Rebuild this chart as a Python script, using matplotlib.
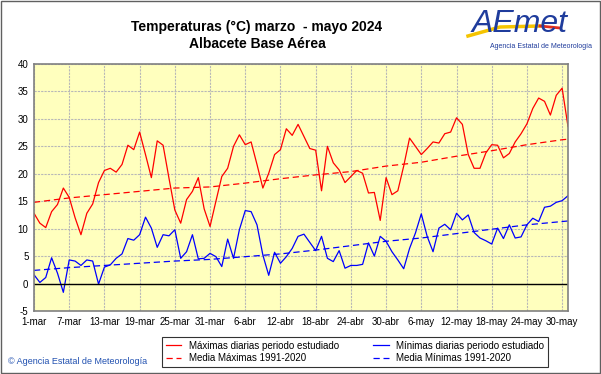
import matplotlib.pyplot as plt
from matplotlib.patches import Rectangle
from matplotlib.lines import Line2D

plt.rcParams['font.family'] = ['Liberation Sans', 'DejaVu Sans']
plt.rcParams['axes.unicode_minus'] = False

# daily maxima / minima, 1-mar .. 31-may 2024
t_max = [12.8, 11.0, 10.2, 13.1, 14.4, 17.4, 15.7, 12.0, 8.9, 12.8,
         14.5, 18.4, 20.6, 21.0, 20.3, 21.7, 25.2, 24.4, 27.6, 23.5,
         19.3, 26.0, 25.2, 19.2, 13.4, 11.0, 15.3, 16.8, 19.3, 13.6,
         10.4, 15.0, 19.5, 21.0, 25.0, 27.1, 25.3, 25.8, 21.7, 17.4,
         20.1, 23.5, 24.4, 28.2, 27.0, 29.0, 26.8, 24.6, 24.3, 16.9,
         25.0, 22.0, 20.7, 18.4, 19.5, 20.6, 20.1, 16.5, 16.6, 11.5,
         19.3, 16.2, 16.9, 21.4, 26.5, 25.0, 23.5, 24.6, 25.8, 25.6,
         27.3, 27.6, 30.2, 29.0, 23.5, 21.0, 21.0, 23.8, 25.3, 25.2,
         22.9, 23.7, 25.8, 27.3, 29.1, 31.9, 33.8, 33.2, 30.7, 34.3,
         35.6, 28.6]
t_min = [1.6, 0.2, 1.1, 4.7, 1.9, -1.6, 4.3, 4.1, 3.3, 4.3,
         4.1, -0.1, 3.0, 3.4, 4.6, 5.4, 8.2, 7.9, 8.9, 12.1,
         10.1, 6.6, 8.9, 8.7, 9.8, 4.6, 5.8, 8.9, 4.5, 4.6,
         5.5, 4.9, 3.1, 8.1, 4.6, 9.8, 13.3, 13.1, 10.7, 5.2,
         1.5, 5.7, 3.7, 4.9, 6.4, 8.6, 9.0, 7.5, 6.0, 8.6,
         4.6, 4.0, 6.0, 2.8, 3.3, 3.3, 3.5, 7.4, 5.0, 8.6,
         7.7, 5.8, 4.3, 2.7, 6.4, 9.2, 12.7, 8.6, 5.8, 10.1,
         10.8, 9.8, 12.8, 11.6, 12.5, 9.3, 8.3, 7.8, 7.2, 10.1,
         8.2, 10.7, 8.3, 8.5, 10.7, 11.9, 11.3, 13.9, 14.1, 14.8,
         15.1, 16.0]

# 1991-2020 normals read at the grid days
clim_days = [0, 6, 12, 18, 24, 30, 36, 42, 48, 54, 60, 66, 72, 78, 84, 90, 91]
clim_max = [14.8, 15.6, 16.2, 16.8, 17.4, 17.6, 18.3, 19.1, 19.8, 20.4,
            21.4, 22.1, 23.2, 24.2, 25.3, 26.2, 26.3]
clim_min = [2.4, 2.9, 3.3, 3.7, 4.1, 4.4, 4.9, 5.4, 6.1, 6.9,
            7.7, 8.3, 9.1, 9.9, 10.7, 11.3, 11.4]

tick_days = [0, 6, 12, 18, 24, 30, 36, 42, 48, 54, 60, 66, 72, 78, 84, 90]
tick_labels = ['1-mar', '7-mar', '13-mar', '19-mar', '25-mar', '31-mar',
               '6-abr', '12-abr', '18-abr', '24-abr', '30-abr', '6-may',
               '12-may', '18-may', '24-may', '30-may']

days = list(range(len(t_max)))

fig = plt.figure(figsize=(6.01, 3.74), dpi=100)
fig.patches.append(Rectangle((0.002, 0.003), 0.996, 0.994, transform=fig.transFigure,
                             fill=False, edgecolor='#606060', lw=1))
ax = fig.add_axes([34/601, 63/374, 534/601, 247/374])
ax.set_facecolor('#FFFFBE')

l1, = ax.plot(days, t_max, color='red', lw=0.9)
l2, = ax.plot(clim_days, clim_max, color='red', lw=0.9, ls=(0, (5, 3)))
l3, = ax.plot(days, t_min, color='blue', lw=0.9)
l4, = ax.plot(clim_days, clim_min, color='blue', lw=0.9, ls=(0, (5, 3)))
ax.axhline(0, color='black', lw=1)

ax.set_xlim(0, 91)
ax.set_ylim(-5, 40)
ax.set_yticks(range(-5, 41, 5))
ax.set_xticks(tick_days)
ax.set_xticklabels(tick_labels)
ax.tick_params(length=0, labelsize=7, pad=4)
ax.grid(True, color='#B8B8B8', ls=(0, (2, 1)), lw=0.8)
ax.set_axisbelow(True)
for s in ax.spines.values():
    s.set_color('#808080')
    s.set_linewidth(1.2)

fig.text(257/601, 1 - 27/374, 'Temperaturas (°C) marzo  - mayo 2024', ha='center', va='center',
         fontsize=10, fontweight='bold')
fig.text(257/601, 1 - 44/374, 'Albacete Base Aérea', ha='center', va='center',
         fontsize=10, fontweight='bold')

# logo
fig.lines.append(Line2D([468/601, 500/601, 540/601], [1 - 36/374, 1 - 27/374, 1 - 26/374],
                        transform=fig.transFigure, color='#F5C400', lw=2.5))
fig.lines.append(Line2D([540/601, 560/601], [1 - 26/374, 1 - 28/374],
                        transform=fig.transFigure, color='#E03020', lw=2))
fig.text(520/601, 1 - 24/374, 'AEmet', ha='center', va='center', fontsize=23,
         color='#1F3C9C', style='italic')
fig.text(541/601, 1 - 47/374, 'Agencia Estatal de Meteorología', ha='center', va='center',
         fontsize=5, color='#1F3C9C')

fig.text(8/601, 1 - 361/374, '© Agencia Estatal de Meteorología', ha='left', va='center',
         fontsize=6.5, color='#2050B0')

leg = fig.legend([l1, l2, l3, l4],
                 ['Máximas diarias periodo estudiado', 'Media Máximas 1991-2020',
                  'Mínimas diarias periodo estudiado', 'Media Mínimas 1991-2020'],
                 ncol=2, loc='center', bbox_to_anchor=(355/601, 1 - 352/374),
                 fontsize=7, frameon=True, fancybox=False, handlelength=1.6,
                 columnspacing=3.5, labelspacing=0.25, borderpad=0.4, handletextpad=0.8)
leg.get_frame().set_edgecolor('black')
leg.get_frame().set_linewidth(0.8)

fig.savefig('out.png', dpi=100)
